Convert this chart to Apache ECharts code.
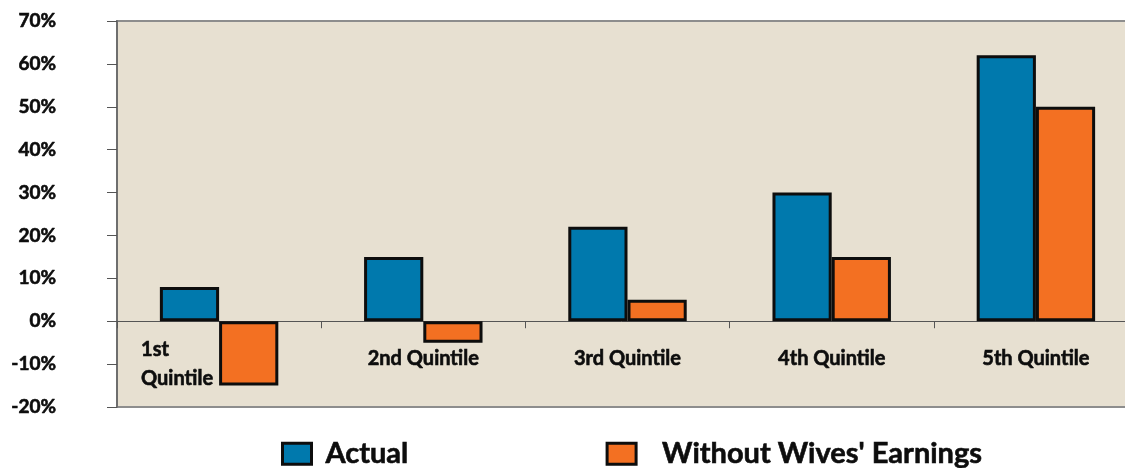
<!DOCTYPE html>
<html>
<head>
<meta charset="utf-8">
<script src="https://cdn.jsdelivr.net/npm/echarts@6/dist/echarts.min.js"></script>
<style>
  html, body { margin: 0; padding: 0; background: #ffffff; }
  #chart { width: 1125px; height: 468px; }
</style>
</head>
<body>
<div id="chart"></div>
<script>
// Income growth by quintile, with and without wives' earnings
const categories = ['1st\nQuintile', '2nd Quintile', '3rd Quintile', '4th Quintile', '5th Quintile'];
const actual = [8, 15, 22, 30, 62];
const withoutWives = [-15, -5, 5, 15, 50];
const seriesNames = ['Actual', "Without Wives' Earnings"];
const yTicks = { min: -20, max: 70, interval: 10 };

const FONT = 'Lato';
const LABEL_SIZE = 20;
const INK = '#0d0d0d';
// a thin outline in the ink colour makes the bold text a little heavier
const HEAVY = { textBorderColor: INK, textBorderWidth: 0.6 };
const chart = echarts.init(document.getElementById('chart'));

// the first category label sits to the left of its bars, on two lines
const catData = categories.map(function (c, i) {
  if (i === 0) {
    return { value: c, textStyle: { align: 'right', padding: [0, 6, 0, 0], lineHeight: 29 } };
  }
  return c;
});

chart.setOption({
  animation: false,
  backgroundColor: '#ffffff',
  textStyle: { fontFamily: FONT },
  grid: {
    left: 117, top: 21, right: -13, bottom: 61,
    outerBoundsMode: 'none',
    containLabel: false,
    show: true,
    backgroundColor: '#e7e0d1',
    borderColor: '#8d8d8d',
    borderWidth: 2
  },
  legend: {
    top: 439,
    left: 281,
    padding: 0,
    icon: 'rect',
    itemWidth: 29,
    itemHeight: 21,
    itemGap: 197,
    itemStyle: { borderColor: INK, borderWidth: 3 },
    textStyle: Object.assign({ fontFamily: FONT, fontWeight: 'bold', fontSize: 29, color: INK, padding: [0, 0, 0, 9] }, HEAVY),
    data: [
      { name: seriesNames[0] },
      { name: seriesNames[1], textStyle: { padding: [0, 0, 0, 21] } }
    ]
  },
  xAxis: {
    type: 'category',
    data: catData,
    axisLine: { onZero: true, lineStyle: { color: '#555', width: 1 } },
    axisTick: { show: true, length: 7, lineStyle: { color: '#555' } },
    axisLabel: Object.assign({
      margin: -72,
      interval: 0,
      padding: [14, 0, 0, 0],
      lineHeight: 19,
      fontFamily: FONT, fontWeight: 'bold', fontSize: LABEL_SIZE, color: INK,
      formatter: function (v) {
        if (v.indexOf('\n') >= 0) {
          return v.split('\n').map(function (s) { return '{l|' + s + '}'; }).join('\n');
        }
        return v;
      },
      rich: {
        l: Object.assign({ align: 'left', fontFamily: FONT, fontWeight: 'bold', fontSize: LABEL_SIZE, color: INK, lineHeight: 29 }, HEAVY)
      }
    }, HEAVY),
    splitLine: { show: false }
  },
  yAxis: {
    type: 'value',
    min: yTicks.min, max: yTicks.max, interval: yTicks.interval,
    axisLine: { show: true, lineStyle: { color: '#6e6e6e', width: 2 } },
    axisTick: { show: true, length: 10, lineStyle: { color: '#555' } },
    axisLabel: Object.assign({
      margin: 61,
      align: 'right',
      fontFamily: FONT, fontWeight: 'bold', fontSize: 19, color: INK,
      formatter: '{value}%'
    }, HEAVY),
    splitLine: { show: false }
  },
  series: [
    {
      name: seriesNames[0], type: 'bar', data: actual,
      barGap: '0%', barCategoryGap: '42%',
      itemStyle: { color: '#0079ad', borderColor: INK, borderWidth: 3 }
    },
    {
      name: seriesNames[1], type: 'bar', data: withoutWives,
      barGap: '0%', barCategoryGap: '42%',
      itemStyle: { color: '#f37022', borderColor: INK, borderWidth: 3 }
    }
  ]
});
</script>
</body>
</html>
